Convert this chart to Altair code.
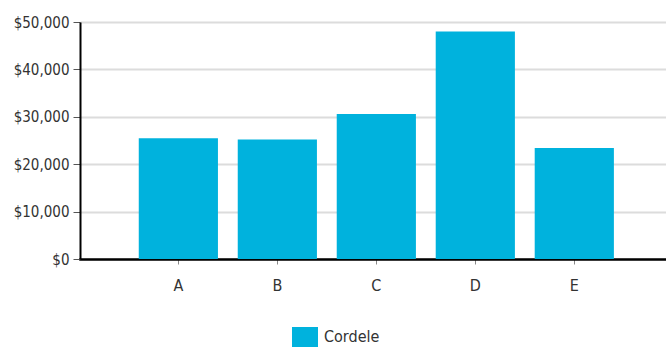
import altair as alt
import pandas as pd

categories = ["A", "B", "C", "D", "E"]
values = [25500, 25200, 30600, 48000, 23400]
series = ["Cordele"] * 5

df = pd.DataFrame({"category": categories, "value": values, "series": series})

FONT = "Liberation Sans Narrow, DejaVu Sans Condensed, sans-serif"

chart = alt.Chart(df).mark_bar(color="#00b2dd").encode(
    x=alt.X("category:N", title=None, sort=categories,
            scale=alt.Scale(paddingInner=0.2, paddingOuter=0.56, align=0.53),
            axis=alt.Axis(labelAngle=0, labelFont=FONT, labelFontSize=16, labelColor="#333",
                          domainColor="#000", domainWidth=2.5, tickColor="#888", tickSize=5,
                          labelPadding=13, grid=False)),
    y=alt.Y("value:Q", title=None,
            scale=alt.Scale(domain=[0, 50000]),
            axis=alt.Axis(values=[0, 10000, 20000, 30000, 40000, 50000], format="$,.0f",
                          labelFont=FONT, labelFontSize=15, labelColor="#333",
                          domainColor="#000", domainWidth=2, tickColor="#555", tickSize=7,
                          labelPadding=4, gridColor="#dcdcdc", gridWidth=2)),
    color=alt.Color("series:N", title=None,
                    scale=alt.Scale(domain=["Cordele"], range=["#00b2dd"]),
                    legend=alt.Legend(orient="none", legendX=215, legendY=305, padding=0,
                                      symbolType="M-1.3,-1L1.3,-1L1.3,1L-1.3,1Z",
                                      symbolSize=400, symbolOpacity=1, symbolStrokeWidth=0,
                                      labelFont=FONT, labelFontSize=16, labelColor="#333",
                                      labelOffset=9)),
).properties(
    width=586, height=237,
    padding={"left": 80, "top": 22, "right": 0, "bottom": 90},
    autosize=alt.AutoSizeParams(type="none"),
).configure_view(stroke=None).configure_axisX(domainCap="square")

chart.save("out.html", embed_options={"renderer": "svg", "actions": False})
